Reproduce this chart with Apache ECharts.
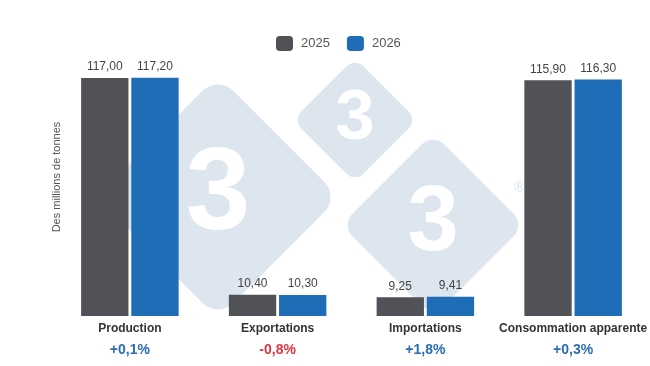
<!DOCTYPE html>
<html><head><meta charset="utf-8">
<script src="https://cdn.jsdelivr.net/npm/echarts@6/dist/echarts.min.js"></script>
<style>html,body{margin:0;padding:0;background:#fff}#c{width:650px;height:366px}</style>
</head><body><div id="c"></div>
<script>
const categories = ['Production', 'Exportations', 'Importations', 'Consommation apparente'];
const changes = ['+0,1%', '-0,8%', '+1,8%', '+0,3%'];
const seriesNames = ['2025', '2026'];
const values2025 = [117.00, 10.40, 9.25, 115.90];
const values2026 = [117.20, 10.30, 9.41, 116.30];

const fmt = v => v.toFixed(2).replace('.', ',');
const chart = echarts.init(document.getElementById('c'));
const wmColor = '#dde5ef';
function diamond(cx, cy, side, r, fs) {
  return [
    {type:'rect', x:cx, y:cy, rotation:Math.PI/4, z:0, silent:true,
     shape:{x:-side/2, y:-side/2, width:side, height:side, r:r}, style:{fill:wmColor}},
    {type:'text', x:cx, y:cy, z:1, silent:true,
     style:{text:'3', fill:'#ffffff', font:'bold '+fs+'px Arial', textAlign:'center', textVerticalAlign:'middle'}}
  ];
}
chart.setOption({
  animation:false,
  textStyle:{fontFamily:'Liberation Sans, Arial, sans-serif'},
  graphic:[].concat(
    diamond(218,197,172,22,116),
    diamond(355,120,88,12,70),
    diamond(433,225,130,16,92),
    [{type:'text', x:520, y:188, z:1, silent:true, style:{text:'®', fill:wmColor, font:'16px Arial', textAlign:'center', textVerticalAlign:'middle'}}]
  ),
  legend:{top:31, left:271, icon:'roundRect', itemWidth:17, itemHeight:15, itemGap:17,
    textStyle:{fontSize:13, color:'#555', padding:[0,0,0,3]}, data:seriesNames},
  grid:{left:56, right:2, top:72, bottom:50},
  xAxis:{type:'category', data:categories,
    axisLine:{show:false}, axisTick:{show:false},
    axisLabel:{margin:3, interval:0,
      formatter:(v, i) => '{c|' + v + '}\n' + (changes[i].startsWith('-') ? '{n|' : '{p|') + changes[i] + '}',
      rich:{
        c:{fontSize:12, fontWeight:'bold', color:'#333', lineHeight:20},
        p:{fontSize:14, fontWeight:'bold', color:'#2a6db5', lineHeight:22},
        n:{fontSize:14, fontWeight:'bold', color:'#e0363f', lineHeight:22}
      }}},
  yAxis:{type:'value', min:0, max:120, show:true,
    axisLine:{show:false}, axisTick:{show:false}, axisLabel:{show:false}, splitLine:{show:false},
    name:'Des millions de tonnes', nameLocation:'middle', nameGap:-6, nameRotate:90,
    nameTextStyle:{fontSize:11, color:'#555', padding:[0,0,0,34]}},
  series:[
    {name:seriesNames[0], type:'bar', data:values2025, z:3, barGap:'6%', barCategoryGap:'34%',
     itemStyle:{color:'#505257'},
     label:{show:true, position:'top', distance:5, fontSize:12, color:'#444', formatter:p=>fmt(p.value)}},
    {name:seriesNames[1], type:'bar', data:values2026, z:3,
     itemStyle:{color:'#1e6db6'},
     label:{show:true, position:'top', distance:5, fontSize:12, color:'#444', formatter:p=>fmt(p.value)}}
  ]
});
</script></body></html>
